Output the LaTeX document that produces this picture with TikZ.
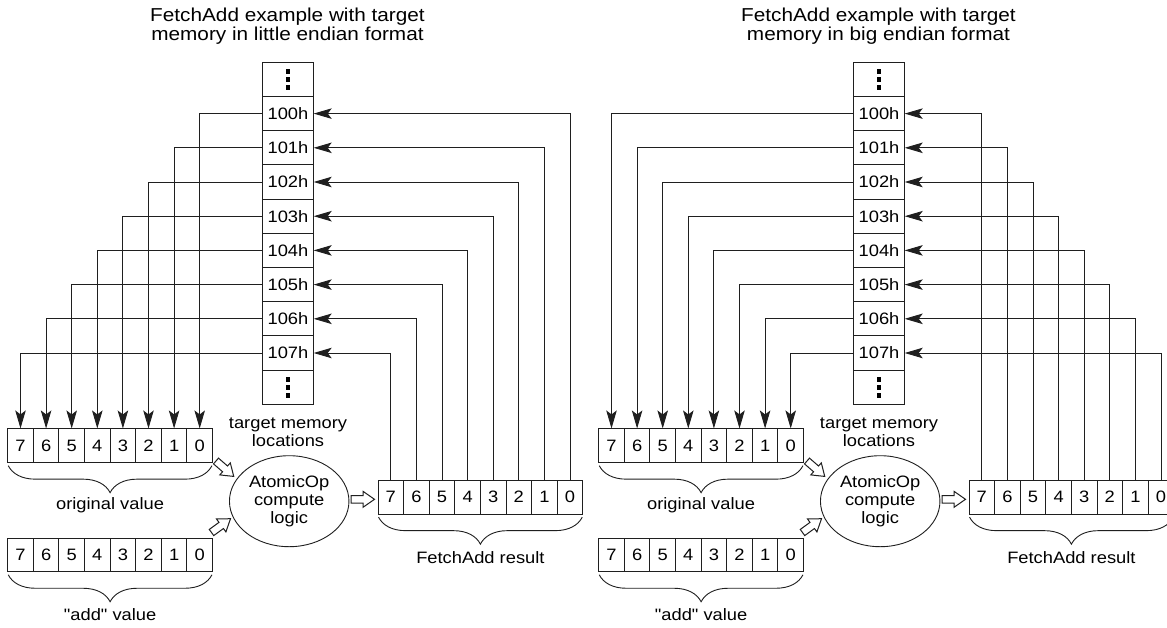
\documentclass[tikz,border=0pt]{standalone}
\usepackage{fontspec}
\setmainfont{Liberation Sans}[FakeStretch=1.11, Ligatures=TeXOff]
\usetikzlibrary{arrows.meta,decorations.pathreplacing,shapes.geometric,calc}
\newcommand{\bodyfont}{\fontsize{16.5}{18}\selectfont}
\newcommand{\titlefont}{\fontsize{18.7}{18.5}\selectfont}
\tikzset{
 wire/.style={draw=black!88, line width=0.9pt},
 arr/.style={wire, -{Stealth[length=18pt,width=10.5pt,inset=4pt]}},
 memcell/.style={draw=black!88, line width=0.9pt, minimum width=50.5pt, minimum height=34.2pt, inner sep=0pt, font=\bodyfont},
 bitcell/.style={draw=black!88, line width=0.9pt, minimum width=25.6pt, minimum height=33.6pt, inner sep=0pt, font=\bodyfont},
 brc/.style={draw=black!88, line width=0.9pt, decorate, decoration={brace, mirror, amplitude=27pt}},
 lbl/.style={font=\bodyfont, align=center, inner sep=0pt},
 ttl/.style={font=\titlefont, align=center, inner sep=0pt},
 logic/.style={ellipse, draw=black!88, line width=0.9pt, minimum width=119.5pt, minimum height=91pt, inner sep=0pt, font=\bodyfont, align=center},
 hollowst/.style={draw=black!88, line width=1pt, fill=white, line join=miter},
}
% hollow block arrow: tail x, tail y, angle
\newcommand{\hollowarr}[3]{%
 \draw[hollowst, shift={(#1,#2)}, rotate=#3]
   (0,-3.8) -- (12,-3.8) -- (12,-8) -- (23.5,0) -- (12,8) -- (12,3.8) -- (0,3.8) -- cycle;}
% #1 prefix, #2 x shift, #3 endian word, #4 formula for bit index from row \i
\newcommand{\fahalf}[4]{%
\begin{scope}[xshift=#2]
 \node[ttl] (#1t) at (287.5,26) {FetchAdd example with target\\memory in #3 format};
 % memory column
 \node[memcell] (#1m0) at (288,79.4) {};
 \foreach \i in {1,...,8}{%
   \pgfmathtruncatemacro{\j}{\i-1}%
   \node[memcell] (#1m\i) at (288,{62.3+34.2*(\i+0.5)}) {10\j h};
 }
 \node[memcell] (#1m9) at (288,387.2) {};
 \foreach \dy in {-8,0,8}{%
   \fill ($(#1m0.center)+(-2.4,\dy-2.3)$) rectangle ++(4.8,4.6);
   \fill ($(#1m9.center)+(-2.4,\dy-2.3)$) rectangle ++(4.8,4.6);
 }
 \node[lbl] (#1tl) at (288,432) {target memory\\locations};
 % bit cells
 \foreach \k in {0,...,7}{%
   \pgfmathtruncatemacro{\d}{7-\k}%
   \node[bitcell] (#1o\k) at ({7.7+25.6*(\k+0.5)},445.7) {\d};
   \node[bitcell] (#1a\k) at ({7.7+25.6*(\k+0.5)},554.8) {\d};
   \node[bitcell] (#1r\k) at ({378+25.6*(\k+0.5)},497.2) {\d};
 }
 % braces and labels
 \draw[brc] ($(#1o0.south west)+(1,2.7)$) -- ($(#1o7.south east)+(-1,2.7)$);
 \draw[brc] ($(#1a0.south west)+(1,2.7)$) -- ($(#1a7.south east)+(-1,2.7)$);
 \draw[brc] ($(#1r0.south west)+(1,2.7)$) -- ($(#1r7.south east)+(-1,2.7)$);
 \node[lbl] (#1ol) at ($(#1o0.south west)!0.5!(#1o7.south east)+(0,42.7)$) {original value};
 \node[lbl] (#1al) at ($(#1a0.south west)!0.5!(#1a7.south east)+(0,42.7)$) {"add" value};
 \node[lbl] (#1rl) at ($(#1r0.south west)!0.5!(#1r7.south east)+(0,42.7)$) {FetchAdd result};
 % compute logic
 \node[logic] (#1e) at (289.2,501.2) {AtomicOp\\compute\\logic};
 \hollowarr{216}{461}{-41}
 \hollowarr{211.5}{532.5}{36}
 \hollowarr{351}{499.3}{0}
 % wires
 \foreach \i in {1,...,8}{%
   \pgfmathtruncatemacro{\k}{#4}%
   \draw[arr] (#1m\i.west) -| (#1o\k.north);
   \draw[arr] (#1r\k.north) |- (#1m\i.east);
 }
\end{scope}}
\begin{document}
\begin{tikzpicture}[x=1pt,y=-1pt]
 \fill[white] (0,0) rectangle (1167,627);
 \useasboundingbox (0,0) rectangle (1167,627);
 \fahalf{L}{0pt}{little endian}{8-\i}
 \fahalf{R}{591pt}{big endian}{\i-1}
\end{tikzpicture}
\end{document}
